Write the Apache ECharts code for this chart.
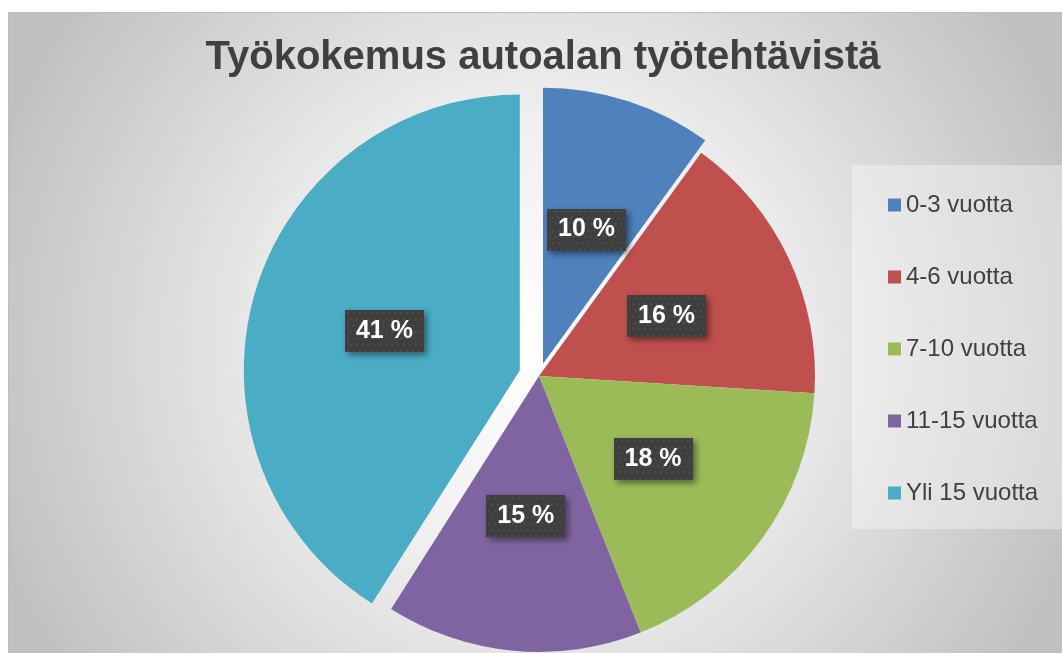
<!DOCTYPE html>
<html>
<head>
<meta charset="utf-8">
<script src="https://cdn.jsdelivr.net/npm/echarts@6/dist/echarts.min.js"></script>
<style>
html,body{margin:0;padding:0;background:#fff;}
#chart{width:1062px;height:653px;}
</style>
</head>
<body>
<div id="chart"></div>
<script>
const titleText = 'Työkokemus autoalan työtehtävistä';
const categories = ['0-3 vuotta', '4-6 vuotta', '7-10 vuotta', '11-15 vuotta', 'Yli 15 vuotta'];
const values = [10, 16, 18, 15, 41];
const colors = ['#4F81BD', '#C0504D', '#9BBB59', '#8064A2', '#4BACC6'];
// explosion distance of each slice (px); slices sharing a distance are drawn in one layer
const explodedOffsets = [13, 0, 0, 0, 20];

const FONT = '"Liberation Sans", Arial, sans-serif';
const chart = echarts.init(document.getElementById('chart'), null, {renderer: 'canvas'});

// dotted dark texture for the data-label boxes
function makeLabelBg(w, h) {
  const c = document.createElement('canvas');
  c.width = w; c.height = h;
  const g = c.getContext('2d');
  g.fillStyle = '#3f3f3f';
  g.fillRect(0, 0, w, h);
  g.fillStyle = '#575757';
  for (let y = 2, row = 0; y < h; y += 6, row++) {
    for (let x = (row % 2 ? 5 : 2); x < w; x += 6) {
      g.fillRect(x, y, 1.6, 1.6);
    }
  }
  return c;
}
const labelBg = makeLabelBg(80, 40);

// group slices into layers by explosion distance
const layers = [...new Set(explodedOffsets)];
const series = layers.map(off => ({
  type: 'pie',
  center: [539, 376],
  radius: 276,
  startAngle: 90,
  clockwise: true,
  selectedMode: 'multiple',
  selectedOffset: off,
  avoidLabelOverlap: false,
  emphasis: {disabled: true},
  label: {
    show: true,
    position: 'inside',
    formatter: p => p.value + ' %',
    fontFamily: FONT,
    fontSize: 25,
    fontWeight: 'bold',
    color: '#ffffff',
    backgroundColor: {image: labelBg},
    padding: [9, 11, 8, 11],
    shadowBlur: 6,
    shadowOffsetX: 3,
    shadowOffsetY: 3,
    shadowColor: 'rgba(0,0,0,0.45)'
  },
  labelLine: {show: false},
  data: categories.map((name, i) => {
    const mine = explodedOffsets[i] === off;
    return {
      name: name,
      value: values[i],
      selected: mine && off > 0,
      itemStyle: {color: mine ? colors[i] : 'rgba(0,0,0,0)'},
      label: {show: mine}
    };
  })
}));

const option = {
  animation: false,
  backgroundColor: '#ffffff',
  graphic: [{
    type: 'rect',
    z: -10,
    left: 8, top: 12,
    shape: {width: 1054, height: 641},
    style: {
      fill: {
        type: 'radial', x: 0.5, y: 0.52, r: 0.9,
        colorStops: [
          {offset: 0, color: '#ffffff'},
          {offset: 0.4, color: '#efefef'},
          {offset: 1, color: '#c0c0c0'}
        ]
      },
      stroke: '#bdbdbd', lineWidth: 1
    },
    silent: true
  }],
  title: {
    text: titleText,
    left: 538, top: 33,
    textAlign: 'center',
    textStyle: {fontFamily: FONT, fontSize: 40, fontWeight: 'bold', color: '#404040'}
  },
  legend: {
    orient: 'vertical',
    left: 852, top: 165,
    padding: [28, 40, 24, 36],
    backgroundColor: 'rgba(255,255,255,0.35)',
    itemWidth: 13, itemHeight: 13,
    itemGap: 48,
    icon: 'rect',
    selectedMode: false,
    textStyle: {fontFamily: FONT, fontSize: 24, color: '#404040', lineHeight: 24},
    data: categories.map((name, i) => ({name: name, itemStyle: {color: colors[i]}}))
  },
  series: series
};
chart.setOption(option);
</script>
</body>
</html>
